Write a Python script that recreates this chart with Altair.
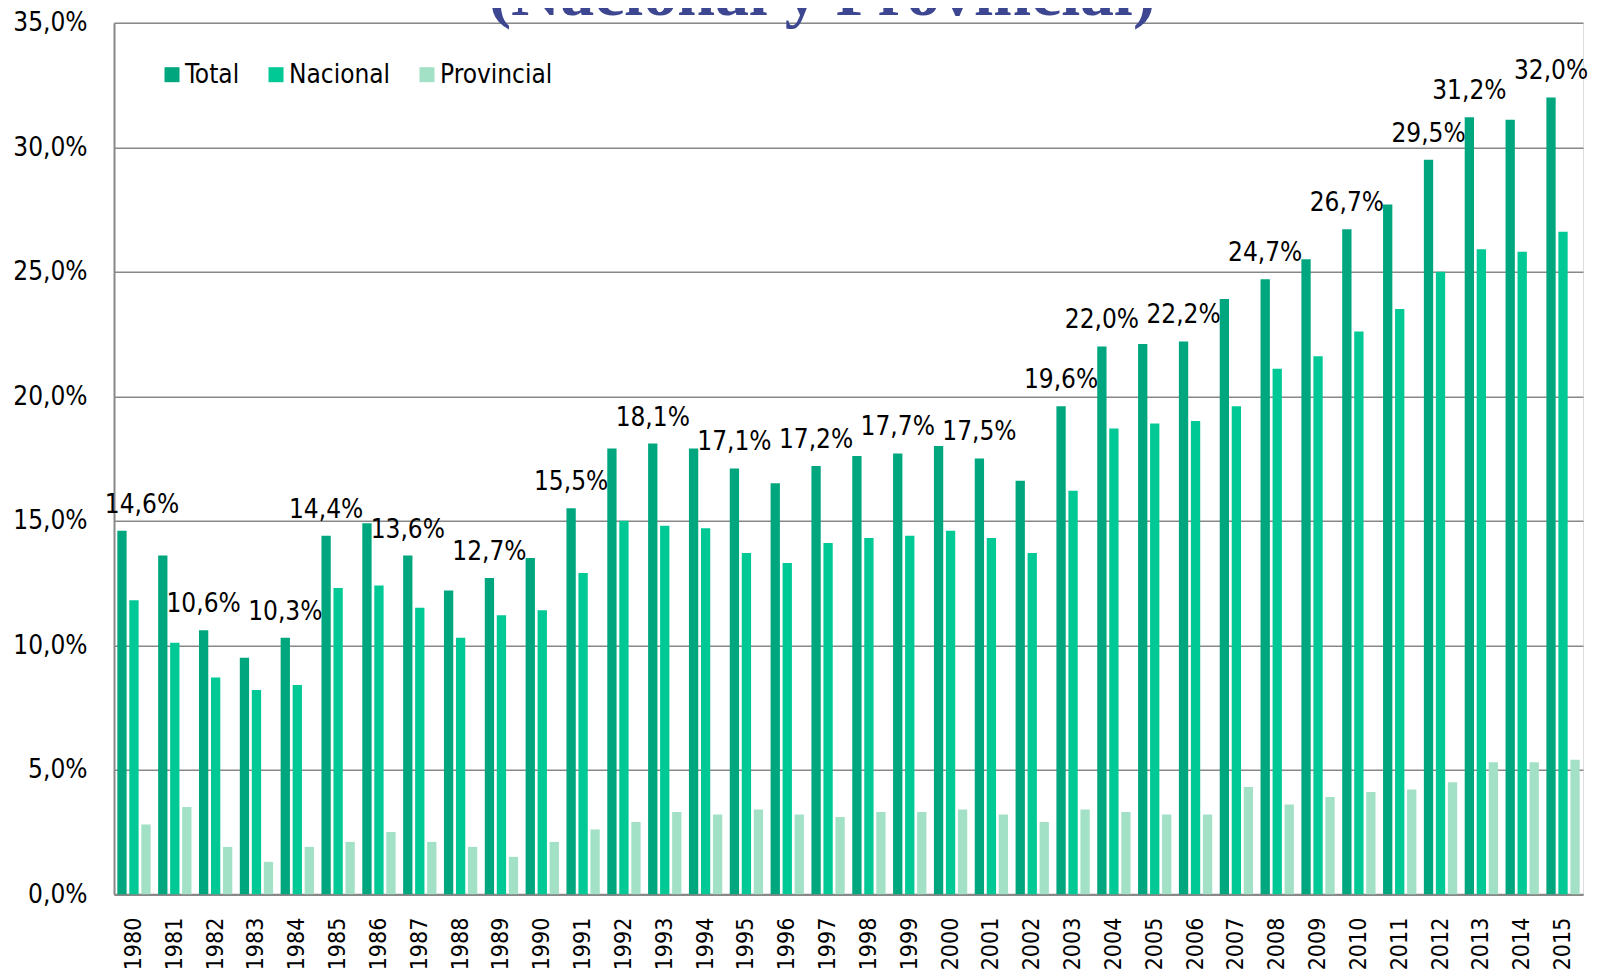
import altair as alt
import pandas as pd

years = list(range(1980, 2016))
series_names = ["Total", "Nacional", "Provincial"]
series_colors = ["#00a77e", "#00c995", "#a3e1c7"]

total = [14.6, 13.6, 10.6, 9.5, 10.3, 14.4, 14.9, 13.6, 12.2, 12.7, 13.5, 15.5,
         17.9, 18.1, 17.9, 17.1, 16.5, 17.2, 17.6, 17.7, 18.0, 17.5, 16.6, 19.6,
         22.0, 22.1, 22.2, 23.9, 24.7, 25.5, 26.7, 27.7, 29.5, 31.2, 31.1, 32.0]
nacional = [11.8, 10.1, 8.7, 8.2, 8.4, 12.3, 12.4, 11.5, 10.3, 11.2, 11.4, 12.9,
            15.0, 14.8, 14.7, 13.7, 13.3, 14.1, 14.3, 14.4, 14.6, 14.3, 13.7, 16.2,
            18.7, 18.9, 19.0, 19.6, 21.1, 21.6, 22.6, 23.5, 25.0, 25.9, 25.8, 26.6]
provincial = [2.8, 3.5, 1.9, 1.3, 1.9, 2.1, 2.5, 2.1, 1.9, 1.5, 2.1, 2.6,
              2.9, 3.3, 3.2, 3.4, 3.2, 3.1, 3.3, 3.3, 3.4, 3.2, 2.9, 3.4,
              3.3, 3.2, 3.2, 4.3, 3.6, 3.9, 4.1, 4.2, 4.5, 5.3, 5.3, 5.4]
labeled_years = [1980, 1982, 1984, 1985, 1987, 1989, 1991, 1993, 1995, 1997, 1999,
                 2001, 2003, 2004, 2006, 2008, 2010, 2012, 2013, 2015]
y_ticks = [0, 5, 10, 15, 20, 25, 30, 35]
title_text = ["(Nacional y Provincial)"]

rows = []
for i, yr in enumerate(years):
    for name, vals in zip(series_names, [total, nacional, provincial]):
        rows.append({"year": str(yr), "series": name, "value": vals[i]})
df = pd.DataFrame(rows)

lab = pd.DataFrame({
    "year": [str(y) for y in labeled_years],
    "series": ["Total"] * len(labeled_years),
    "value": [total[years.index(y)] for y in labeled_years],
})
lab["label"] = lab["value"].map(lambda v: f"{v:.1f}".replace(".", ",") + "%")

FONT = "DejaVu Sans Condensed, DejaVu Sans"

x_enc = alt.X("year:N", title=None,
              scale=alt.Scale(paddingInner=0.184, paddingOuter=0.081),
              axis=alt.Axis(labelAngle=270, labelPadding=23, labelFontSize=23,
                            labelFont=FONT, labelColor="black", ticks=False,
                            domainColor="#888888", domainWidth=2, grid=False))
xo_enc = alt.XOffset("series:N", sort=series_names,
                     scale=alt.Scale(domain=series_names, paddingInner=0.225, paddingOuter=0))
y_enc = alt.Y("value:Q", title=None,
              scale=alt.Scale(domain=[0, 35], nice=False, zero=True),
              axis=alt.Axis(values=y_ticks,
                            labelExpr="replace(format(datum.value, '.1f'), '.', ',') + '%'",
                            labelFont=FONT, labelFontSize=26, labelColor="black",
                            labelPadding=27, ticks=False, domainColor="#888888",
                            domainWidth=2, grid=True, gridColor="#888888", gridWidth=1.5))

bars = alt.Chart(df).mark_bar().encode(
    x=x_enc,
    xOffset=xo_enc,
    y=y_enc,
    color=alt.Color("series:N", sort=series_names,
                    scale=alt.Scale(domain=series_names, range=series_colors),
                    legend=alt.Legend(title=None, orient="none", legendX=45, legendY=39,
                                      direction="horizontal", symbolType="square",
                                      symbolSize=225, symbolStrokeWidth=0,
                                      labelFont=FONT, labelFontSize=26, labelColor="black",
                                      labelOffset=0, columnPadding=23, padding=0)),
)

text_main = alt.Chart(lab).transform_filter("datum.year != '1980'").mark_text(
    baseline="alphabetic", dy=-18, fontSize=26, font=FONT, color="black"
).encode(x="year:N", xOffset="series:N", y="value:Q", text="label:N")

text_first = alt.Chart(lab).transform_filter("datum.year == '1980'").mark_text(
    baseline="alphabetic", dy=-18, dx=20, fontSize=26, font=FONT, color="black"
).encode(x="year:N", xOffset="series:N", y="value:Q", text="label:N")

title_mark = alt.Chart(pd.DataFrame({"t": title_text})).mark_text(
    font="Liberation Serif", fontSize=68, fontWeight="bold", color="#3d4691",
    align="center", baseline="alphabetic"
).encode(text="t:N", x=alt.value(708), y=alt.value(-7.7))

chart = alt.layer(bars, text_main, text_first, title_mark).properties(
    width=1469, height=871.5,
    autosize=alt.AutoSizeParams(type="none"),
    padding={"left": 106, "top": 14.7, "right": 8, "bottom": 77},
).configure_view(strokeWidth=0).configure(background="white")

chart.save("out.html", embed_options={"renderer": "svg", "actions": False})
